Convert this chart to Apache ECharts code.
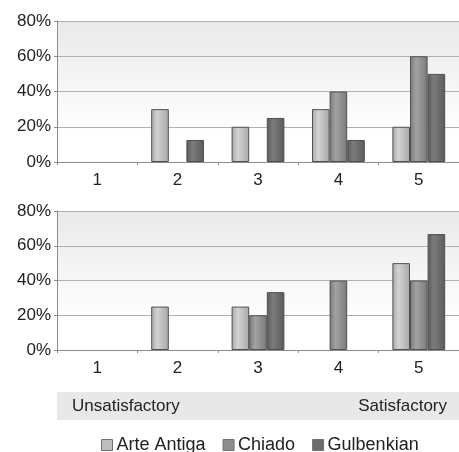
<!DOCTYPE html>
<html><head><meta charset="utf-8">
<script src="https://cdn.jsdelivr.net/npm/echarts@6/dist/echarts.min.js"></script>
<style>html,body{margin:0;padding:0;background:#fff}#c{width:459px;height:452px}</style>
</head><body><div id="c"></div>
<script>
const categories = ['1','2','3','4','5'];
const seriesNames = ['Arte Antiga','Chiado','Gulbenkian'];
const topArte = [0,30,20,30,20];
const topChiado = [0,0,0,40,60];
const topGulb = [0,12.5,25,12.5,50];
const botArte = [0,25,25,0,50];
const botChiado = [0,0,20,40,40];
const botGulb = [0,0,33.3,0,66.7];
const yTicks = [0,20,40,60,80];
const scaleLeft = 'Unsatisfactory';
const scaleRight = 'Satisfactory';

const baseCols = [['#d2d2d2','#a8a8a8','#bdbdbd'],['#a2a2a2','#7a7a7a','#8e8e8e'],['#7c7c7c','#5a5a5a','#6b6b6b']];
function grad(c){return new echarts.graphic.LinearGradient(0,0,1,0,[{offset:0,color:c[1]},{offset:0.35,color:c[0]},{offset:1,color:c[1]}]);}
const font = '"Liberation Sans", Arial, sans-serif';
const bg = new echarts.graphic.LinearGradient(0,0,0,1,[{offset:0,color:'#e9e9e9'},{offset:0.8,color:'#ffffff'},{offset:1,color:'#ffffff'}]);
function xAx(i){return {type:'category',gridIndex:i,data:categories,
  axisLine:{lineStyle:{color:'#8a8a8a'}},axisTick:{show:true,alignWithLabel:false,lineStyle:{color:'#8a8a8a'},length:3},
  axisLabel:{color:'#222',fontSize:17,fontFamily:font,margin:10}};}
function yAx(i){return {type:'value',gridIndex:i,min:yTicks[0],max:yTicks[yTicks.length-1],interval:20,
  axisLine:{show:true,lineStyle:{color:'#8a8a8a'}},axisTick:{show:true,length:3,lineStyle:{color:'#8a8a8a'}},
  splitLine:{lineStyle:{color:'#b0b0b0'}},
  axisLabel:{color:'#222',fontSize:17,fontFamily:font,margin:6,formatter:'{value}%'}};}
const data = [[topArte,topChiado,topGulb],[botArte,botChiado,botGulb]];
const series = [];
for (let g=0; g<2; g++) for (let s=0; s<3; s++) series.push({
  name:seriesNames[s],type:'bar',xAxisIndex:g,yAxisIndex:g,
  data:data[g][s].map(v => v === 0 ? '-' : v),
  barWidth:17.6,barGap:'0%',
  itemStyle:{color:grad(baseCols[s]),borderColor:'#505050',borderWidth:1},
  emphasis:{disabled:true},silent:true,animation:false});
const chart = echarts.init(document.getElementById('c'),null,{renderer:'canvas'});
chart.setOption({
  animation:false,
  grid:[{left:57,top:21,width:406,height:141,show:true,backgroundColor:bg,borderWidth:0},
        {left:57,top:211,width:406,height:139,show:true,backgroundColor:bg,borderWidth:0}],
  xAxis:[xAx(0),xAx(1)], yAxis:[yAx(0),yAx(1)],
  legend:{top:436,left:101,itemWidth:11,itemHeight:11,itemGap:17,padding:0,
    textStyle:{fontSize:18,fontFamily:font,color:'#222',padding:[0,0,0,-1]},
    data:seriesNames.map((n,i)=>({name:n,icon:'rect',itemStyle:{color:baseCols[i][2],borderColor:'#707070',borderWidth:1}}))},
  graphic:[
    {type:'rect',shape:{x:57,y:392,width:402,height:28},style:{fill:'#e8e8e8'},silent:true},
    {type:'text',x:72,y:406,style:{text:scaleLeft,fontSize:17,fontFamily:font,fill:'#222',verticalAlign:'middle'}},
    {type:'text',x:447,y:406,style:{text:scaleRight,fontSize:17,fontFamily:font,fill:'#222',align:'right',verticalAlign:'middle'}}
  ],
  series:series
});
</script></body></html>
